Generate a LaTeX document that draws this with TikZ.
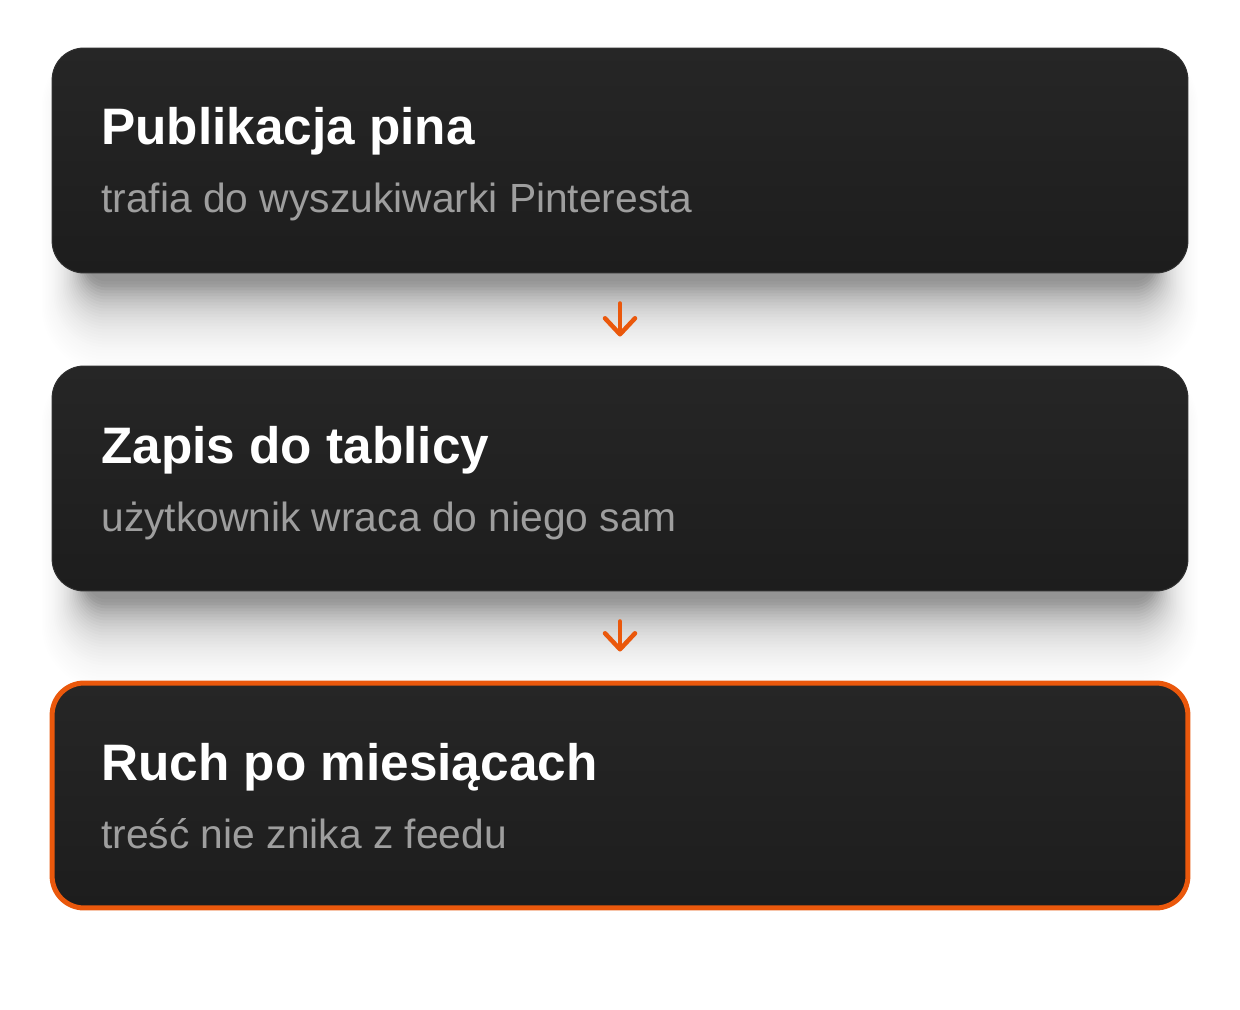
\documentclass[tikz,border=0pt]{standalone}
\usepackage{fontspec}
\setmainfont{Liberation Sans}
\usetikzlibrary{arrows.meta,backgrounds}

\definecolor{cardtop}{HTML}{262626}
\definecolor{cardbot}{HTML}{1D1D1D}
\definecolor{cardedge}{HTML}{303030}
\definecolor{hot}{HTML}{EA580C}
\definecolor{subgray}{HTML}{9E9E9E}

% soft shadow below a card, built from stacked light layers
\newcommand{\cardshadow}[1]{%
  \foreach \e in {0,3,...,90} {
    \pgfmathsetmacro{\rr}{(20+0.5*\e)*0.02}
    \pgfmathsetmacro{\op}{0.04*exp(-\e/35)}
    \fill[black, opacity=\op, rounded corners=\rr cm]
      ([shift={(35-0.5*\e,40-0.5*\e)}]#1.north west) rectangle
      ([shift={(0.5*\e-35,8+\e)}]#1.south east);
  }%
}

\tikzset{
  card/.style={rectangle, rounded corners=0.64cm, minimum width=22.72cm,
    minimum height=4.5cm, top color=cardtop, bottom color=cardbot,
    draw=cardedge, line width=0.02cm},
  cardhot/.style={card, draw=hot, line width=0.1cm},
  title/.style={anchor=base west, inner sep=0pt, text=white,
    font=\fontsize{29.2}{35}\selectfont\bfseries},
  subtitle/.style={anchor=base west, inner sep=0pt, text=subgray,
    font=\fontsize{23.2}{28}\selectfont},
  flow/.style={draw=hot, line width=0.09cm, line cap=round,
    -{Straight Barb[length=0.32cm, width=0.6cm, round]},
    shorten <=0.6cm, shorten >=0.58cm}
}

\begin{document}
\begin{tikzpicture}[x=0.02cm, y=-0.02cm]
    \useasboundingbox (0,0) rectangle (1240,1010);
    % the three cards
    \node[card] (pub) at (620,160.5) {};
    \node[card] (zap) at (620,478.5) {};
    \node[cardhot] (ruch) at (620,795.5) {};
    \begin{pgfonlayer}{background}
        \fill[white] (0,0) rectangle (1240,1010);
        \cardshadow{pub}
        \cardshadow{zap}
    \end{pgfonlayer}
    % texts
    \node[title] (pubT) at (101,145) {Publikacja pina};
    \node[subtitle] (pubS) at (101,213) {trafia do wyszukiwarki Pinteresta};
    \node[title] (zapT) at (101,463) {Zapis do tablicy};
    \node[subtitle] (zapS) at (101,531) {użytkownik wraca do niego sam};
    \node[title] (ruchT) at (101,780) {Ruch po miesiącach};
    \node[subtitle] (ruchS) at (101,848) {treść nie znika z feedu};
    % arrows
    \draw[flow] (pub.south) -- (zap.north);
    \draw[flow] (zap.south) -- (ruch.north);
\end{tikzpicture}
\end{document}
